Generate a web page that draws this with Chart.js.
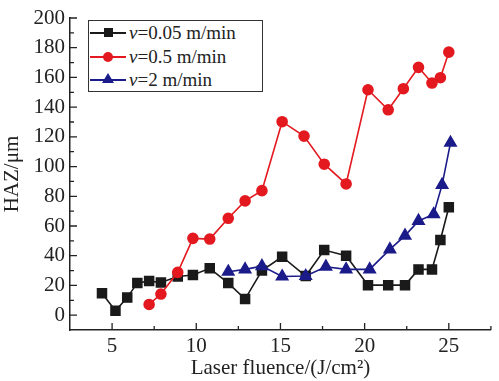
<!DOCTYPE html>
<html>
<head>
<meta charset="utf-8">
<script src="https://cdn.jsdelivr.net/npm/chart.js@4"></script>
<style>
  body { margin: 0; background: #fff; }
  #wrap { position: relative; width: 499px; height: 381px; }
  #legend {
    position: absolute; left: 88px; top: 20px; width: 175px; height: 72px;
    border: 1px solid #333; background: #fff; box-sizing: border-box;
    font-family: "Liberation Serif", serif; font-size: 19px; color: #222;
  }
  .row { position: absolute; left: 0; height: 22px; line-height: 22px; white-space: nowrap; }
  .ln { position: absolute; left: 1px; top: 10px; width: 36px; height: 2px; }
  .mk { position: absolute; }
  .txt { position: absolute; left: 40px; top: 0; }
</style>
</head>
<body>
<div id="wrap">
  <canvas id="c" width="499" height="381"></canvas>
  <div id="legend">
    <div class="row" style="top:1px">
      <div class="ln" style="background:#1a1a1a"></div>
      <div class="mk" style="left:15px;top:6px;width:9px;height:9px;background:#1a1a1a"></div>
      <span class="txt"><i>v</i>=0.05 m/min</span>
    </div>
    <div class="row" style="top:25px">
      <div class="ln" style="background:#e3191f"></div>
      <div class="mk" style="left:14px;top:6px;width:10px;height:10px;border-radius:50%;background:#e3191f"></div>
      <span class="txt"><i>v</i>=0.5 m/min</span>
    </div>
    <div class="row" style="top:48px">
      <div class="ln" style="background:#1b1b8a"></div>
      <div class="mk" style="left:13px;top:4px;width:0;height:0;border-left:6px solid transparent;border-right:6px solid transparent;border-bottom:10px solid #1b1b8a"></div>
      <span class="txt"><i>v</i>=2 m/min</span>
    </div>
  </div>
</div>
<script>
// values
const blackX = [4.4, 5.2, 5.9, 6.5, 7.2, 7.9, 8.9, 9.8, 10.8, 11.9, 12.9, 13.9, 15.1, 16.5, 17.6, 18.9, 20.2, 21.4, 22.4, 23.2, 24.0, 24.5, 25.0];
const blackY = [14.8, 3, 11.8, 21.7, 22.9, 22, 26, 27, 31.5, 21.6, 10.8, 30, 39.3, 26.3, 43.8, 40, 20.2, 20.2, 20.2, 30.8, 30.8, 50.6, 72.6];
const redX = [7.2, 7.9, 8.9, 9.8, 10.8, 11.9, 12.9, 13.9, 15.1, 16.4, 17.6, 18.9, 20.2, 21.4, 22.3, 23.2, 24.0, 24.5, 25.0];
const redY = [7.2, 14.2, 28.8, 51.7, 51.2, 65.2, 76.9, 83.8, 130.2, 120.5, 101.6, 88.3, 151.7, 138.2, 152.4, 166.8, 156.2, 159.8, 177];
const blueX = [11.9, 12.9, 13.9, 15.1, 16.5, 17.7, 18.9, 20.3, 21.5, 22.4, 23.2, 24.1, 24.6, 25.1];
const blueY = [29.2, 30.8, 33, 26, 26.3, 32.6, 30.8, 30.8, 44.3, 53.5, 63.4, 67.9, 87.7, 116];

const xTicks = [5, 10, 15, 20, 25];
const xMinor = [7.5, 12.5, 17.5, 22.5, 27.5];
const yTicks = [0, 20, 40, 60, 80, 100, 120, 140, 160, 180, 200];
const yMinor = [10, 30, 50, 70, 90, 110, 130, 150, 170, 190];

const font = "Liberation Serif";
const pts = (xs, ys) => xs.map((x, i) => ({ x: x, y: ys[i] }));

// inward tick marks
const innerTicks = {
  id: 'innerTicks',
  beforeDatasetsDraw(chart) {
    const ctx = chart.ctx, xs = chart.scales.x, ys = chart.scales.y;
    const a = chart.chartArea;
    ctx.save();
    ctx.strokeStyle = '#222';
    ctx.lineWidth = 1.3;
    ctx.beginPath();
    xTicks.forEach(v => { const p = xs.getPixelForValue(v); ctx.moveTo(p, a.bottom); ctx.lineTo(p, a.bottom - 7); });
    xMinor.forEach(v => { const p = xs.getPixelForValue(v); ctx.moveTo(p, a.bottom); ctx.lineTo(p, a.bottom - 4); });
    yTicks.forEach(v => { const p = ys.getPixelForValue(v); ctx.moveTo(a.left, p); ctx.lineTo(a.left + 7, p); });
    yMinor.forEach(v => { const p = ys.getPixelForValue(v); ctx.moveTo(a.left, p); ctx.lineTo(a.left + 4, p); });
    ctx.stroke();
    ctx.restore();
  }
};

new Chart(document.getElementById('c'), {
  type: 'line',
  data: {
    datasets: [
      { label: 'v=0.05 m/min', data: pts(blackX, blackY), borderColor: '#1a1a1a', backgroundColor: '#1a1a1a',
        pointStyle: 'rect', pointRadius: 6.3, borderWidth: 1.6, order: 2 },
      { label: 'v=0.5 m/min', data: pts(redX, redY), borderColor: '#e3191f', backgroundColor: '#e3191f',
        pointStyle: 'circle', pointRadius: 5, borderWidth: 1.6, order: 1 },
      { label: 'v=2 m/min', data: pts(blueX, blueY), borderColor: '#1b1b8a', backgroundColor: '#1b1b8a',
        pointStyle: 'triangle', pointRadius: 6.5, borderWidth: 1.6, order: 0 }
    ]
  },
  options: {
    responsive: false,
    animation: false,
    layout: { padding: { top: 18, right: 1, left: 0, bottom: 0 } },
    plugins: { legend: { display: false }, tooltip: { enabled: false } },
    elements: { line: { tension: 0 }, point: { borderWidth: 0 } },
    scales: {
      x: {
        type: 'linear', min: 2.5, max: 27.5,
        afterBuildTicks: s => { s.ticks = xTicks.map(v => ({ value: v })); },
        afterFit: s => { s.height = 51; },
        grid: { drawOnChartArea: false, drawTicks: false },
        border: { color: '#222', width: 1.5 },
        ticks: { color: '#222', padding: 4, font: { family: font, size: 21 } },
        title: { display: true, text: 'Laser fluence/(J/cm²)', color: '#222', padding: 0, font: { family: font, size: 21 } }
      },
      y: {
        min: -10, max: 200,
        afterBuildTicks: s => { s.ticks = yTicks.map(v => ({ value: v })); },
        afterFit: s => { s.width = 70; },
        grid: { drawOnChartArea: false, drawTicks: false },
        border: { color: '#222', width: 1.5 },
        ticks: { color: '#222', padding: 5, font: { family: font, size: 21 } },
        title: { display: true, text: 'HAZ/μm', color: '#222', padding: 0, font: { family: font, size: 21 } }
      }
    }
  },
  plugins: [innerTicks]
});
</script>
</body>
</html>
